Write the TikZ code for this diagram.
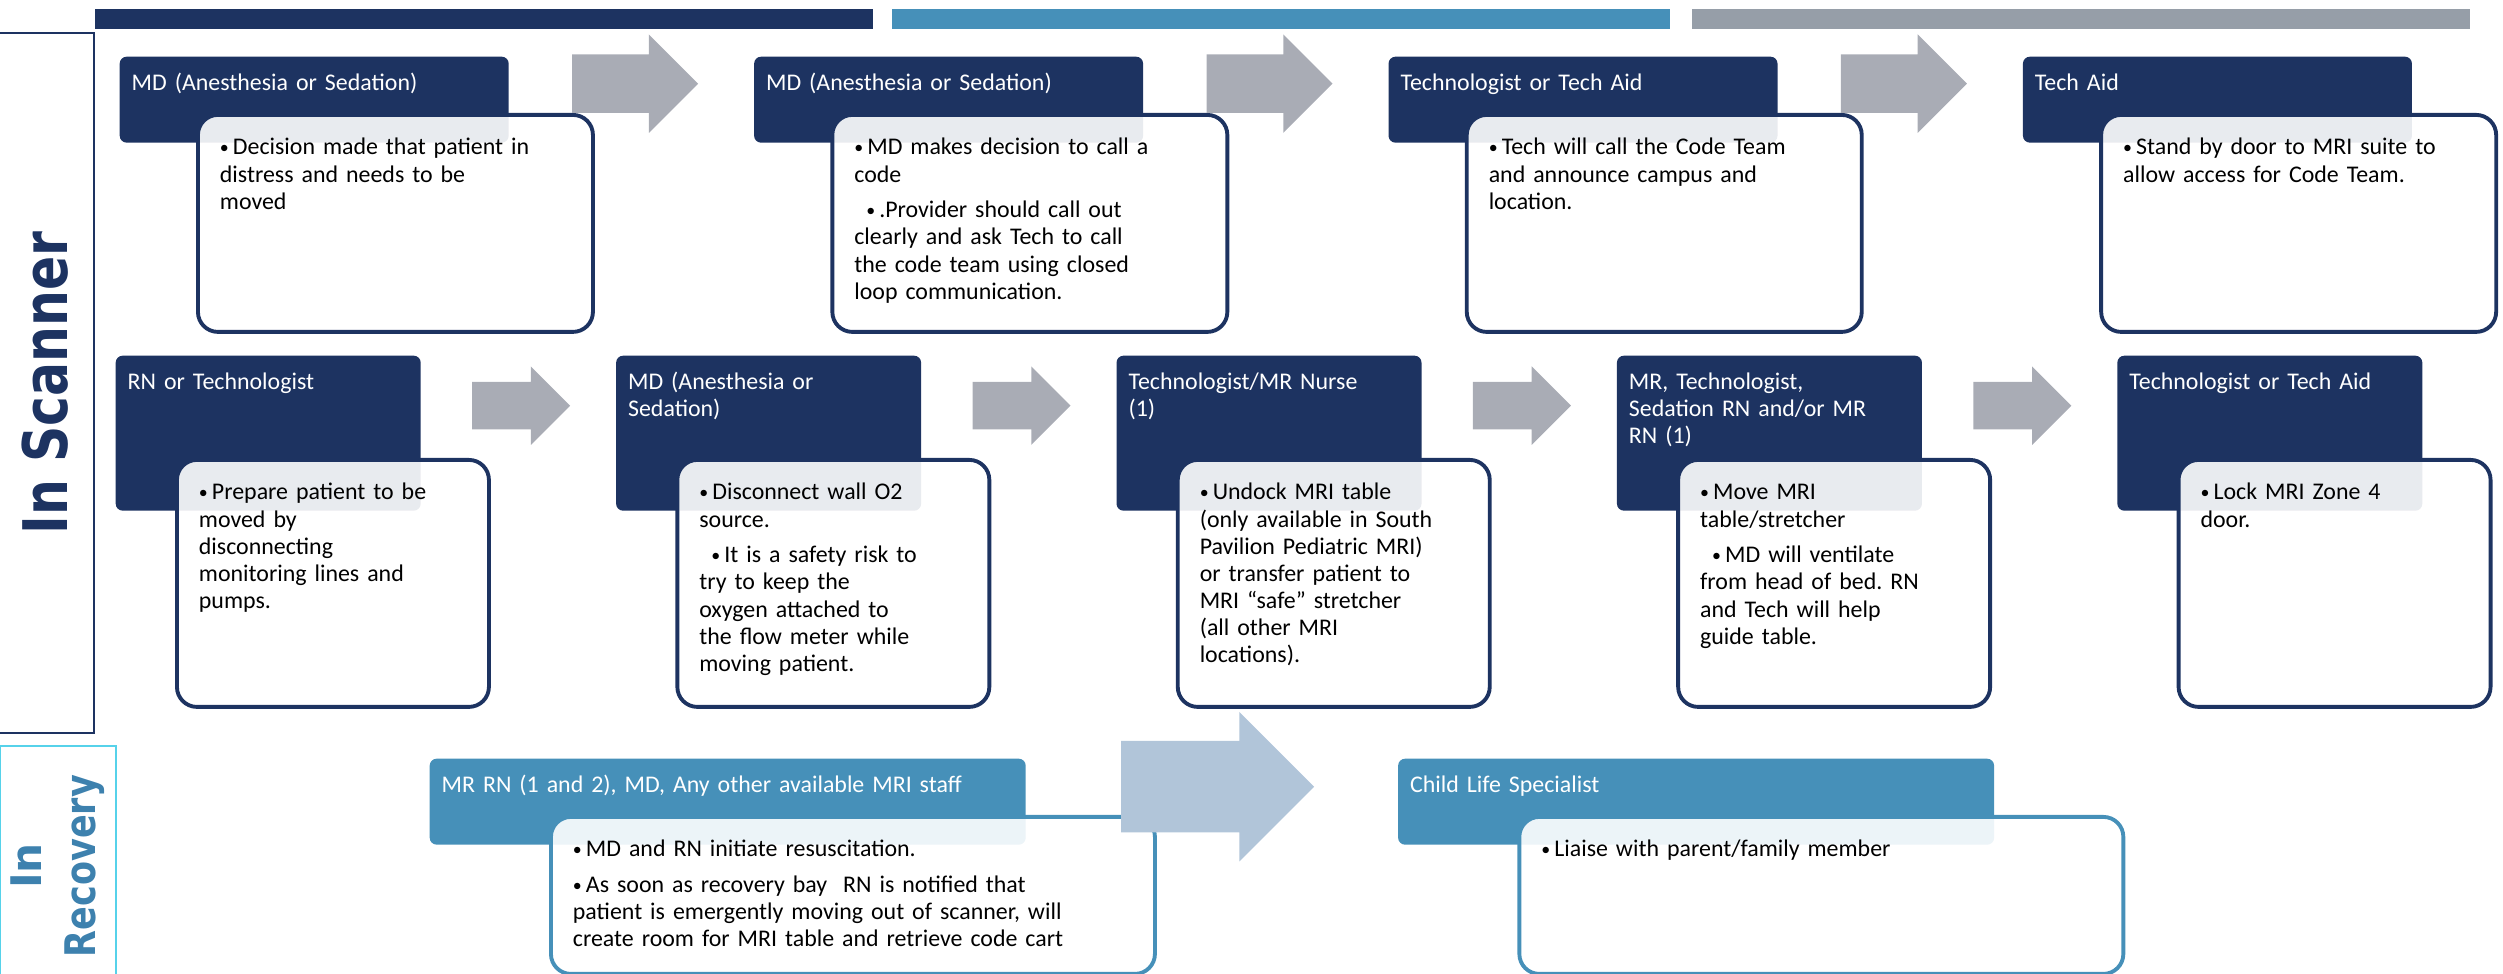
\documentclass[tikz,border=0pt]{standalone}
\usepackage{fontspec}
\setmainfont{Carlito}
\newfontfamily\lanefont{DejaVu Sans}
\usepackage{tikz}
\usetikzlibrary{positioning,shapes.arrows}
\definecolor{navy}{HTML}{1D3361}
\definecolor{steel}{HTML}{4690B9}
\definecolor{greybar}{HTML}{969EA8}
\definecolor{arrowgrey}{HTML}{A9ACB5}
\definecolor{paleblue}{HTML}{B1C5D9}
\definecolor{cyanline}{HTML}{56D2EA}
\definecolor{laneblue}{HTML}{3D81AE}
\frenchspacing
% bullet lines, first and second level
\newcommand{\bdot}{\hbox to 0.13cm{\raisebox{0.15ex}{\scalebox{0.75}{\textbullet}}\hss}}
\newcommand{\bpt}[1]{\par\hangindent=0.13cm\hangafter=1\noindent\bdot#1\par}
\newcommand{\bsub}[1]{\par\vspace{2.5pt}\hangindent=0.25cm\hangafter=1\noindent\hspace{0.12cm}\bdot#1\par}

\begin{document}
\begin{tikzpicture}[font=\fontsize{6.8pt}{7.7pt}\selectfont,
  bar/.style={inner sep=0pt,minimum width=7.78cm,minimum height=0.20cm},
  lane/.style={rotate=90,line width=0.6pt,inner sep=0pt},
  hdr/.style={anchor=north west,fill=navy,text=white,rounded corners=0.07cm,align=left,inner xsep=0.12cm,inner ysep=0.08cm,text height=0.26cm},
  bdy/.style={fill=white,fill opacity=0.9,text opacity=1,draw=navy,line width=1.1pt,rounded corners=0.2cm,align=left,inner xsep=0.22cm,inner ysep=0.08cm,text height=0.05cm},
  hd1/.style={text width=3.65cm,text depth=0.44cm},
  bd1/.style={text width=3.51cm,text depth=1.96cm},
  hd2/.style={text width=2.81cm,text depth=1.13cm},
  bd2/.style={text width=2.68cm,text depth=2.26cm},
  hd3/.style={text width=5.72cm,text depth=0.44cm,fill=steel},
  bd3/.style={text width=5.60cm,text depth=1.36cm,draw=steel},
  garr/.style={single arrow,single arrow tip angle=90,fill=arrowgrey,inner xsep=0pt},
  arr1/.style={minimum height=1.26cm,inner ysep=0.285cm,single arrow head extend=0.20cm},
  arr2/.style={minimum height=0.98cm,inner ysep=0.23cm,single arrow head extend=0.155cm}]
\useasboundingbox (0,0) rectangle (25.03,9.74);

% phase bars
\node[bar,fill=navy,anchor=north west] (bar1) at (0.94,9.66) {};
\node[bar,fill=steel,right=0.18cm of bar1] (bar2) {};
\node[bar,fill=greybar,right=0.20cm of bar2] (bar3) {};

% lanes
\node[lane,draw=navy,text=navy,minimum width=7.00cm,minimum height=0.98cm,
  font=\lanefont\bfseries\fontsize{17.5pt}{18pt}\selectfont] (scanner) at (0.45,5.91) {\scalebox{0.82}[1]{In Scanner}};
\node[lane,draw=cyanline,text=laneblue,minimum width=2.40cm,minimum height=1.16cm,align=center,
  font=\lanefont\bfseries\fontsize{12pt}{15.4pt}\selectfont] (recovery) at (0.58,1.08) {In\\\scalebox{0.83}[1]{Recovery}};

% in scanner, first row
\node[hdr,hd1] (h11) at (1.19,9.18) {MD (Anesthesia or Sedation)};
\node[hdr,hd1,right=2.44cm of h11] (h12) {MD (Anesthesia or Sedation)};
\node[hdr,hd1,right=2.44cm of h12] (h13) {Technologist or Tech Aid};
\node[hdr,hd1,right=2.44cm of h13] (h14) {Tech Aid};
\node[bdy,bd1,below right=0.57cm and 0.77cm of h11.north west] (b11) {\bpt{Decision made that patient in\\distress and needs to be\\moved}};
\node[bdy,bd1,below right=0.57cm and 0.77cm of h12.north west] (b12) {\bpt{MD makes decision to call a\\code}\bsub{.Provider should call out\\clearly and ask Tech to call\\the code team using closed\\loop communication.}};
\node[bdy,bd1,below right=0.57cm and 0.77cm of h13.north west] (b13) {\bpt{Tech will call the Code Team\\and announce campus and\\location.}};
\node[bdy,bd1,below right=0.57cm and 0.77cm of h14.north west] (b14) {\bpt{Stand by door to MRI suite to\\allow access for Code Team.}};
\node[garr,arr1,right=0.62cm of h11,yshift=0.16cm] (a11) {};
\node[garr,arr1,right=0.62cm of h12,yshift=0.16cm] (a12) {};
\node[garr,arr1,right=0.62cm of h13,yshift=0.16cm] (a13) {};

% in scanner, second row
\node[hdr,hd2] (h21) at (1.15,6.19) {RN or Technologist};
\node[hdr,hd2,right=1.94cm of h21] (h22) {MD (Anesthesia or\\Sedation)};
\node[hdr,hd2,right=1.94cm of h22] (h23) {Technologist/MR Nurse\\(1)};
\node[hdr,hd2,right=1.94cm of h23] (h24) {MR, Technologist,\\Sedation RN and/or MR\\RN (1)};
\node[hdr,hd2,right=1.94cm of h24] (h25) {Technologist or Tech Aid};
\node[bdy,bd2,below right=1.03cm and 0.60cm of h21.north west] (b21) {\bpt{Prepare patient to be\\moved by\\disconnecting\\monitoring lines and\\pumps.}};
\node[bdy,bd2,below right=1.03cm and 0.60cm of h22.north west] (b22) {\bpt{Disconnect wall O2\\source.}\bsub{It is a safety risk to\\try to keep the\\oxygen attached to\\the flow meter while\\moving patient.}};
\node[bdy,bd2,below right=1.03cm and 0.60cm of h23.north west] (b23) {\bpt{Undock MRI table\\(only available in South\\Pavilion Pediatric MRI)\\or transfer patient to\\MRI “safe” stretcher\\(all other MRI\\locations).}};
\node[bdy,bd2,below right=1.03cm and 0.60cm of h24.north west] (b24) {\bpt{Move MRI\\table/stretcher}\bsub{MD will ventilate\\from head of bed. RN\\and Tech will help\\guide table.}};
\node[bdy,bd2,below right=1.03cm and 0.60cm of h25.north west] (b25) {\bpt{Lock MRI Zone 4\\door.}};
\node[garr,arr2,right=0.50cm of h21,yshift=0.275cm] (a21) {};
\node[garr,arr2,right=0.50cm of h22,yshift=0.275cm] (a22) {};
\node[garr,arr2,right=0.50cm of h23,yshift=0.275cm] (a23) {};
\node[garr,arr2,right=0.50cm of h24,yshift=0.275cm] (a24) {};

% in recovery
\node[hdr,hd3] (r1) at (4.29,2.16) {MR RN (1 and 2), MD, Any other available MRI staff};
\node[hdr,hd3,right=3.71cm of r1] (r2) {Child Life Specialist};
\node[bdy,bd3,below right=0.57cm and 1.20cm of r1.north west] (s1) {\bpt{MD and RN initiate resuscitation.}\vspace{2.5pt}\bpt{As soon as recovery bay\ \ RN is notified that\\patient is emergently moving out of scanner, will\\create room for MRI table and retrieve code cart}};
\node[bdy,bd3,below right=0.57cm and 1.20cm of r2.north west] (s2) {\bpt{Liaise with parent/family member}};
\node[garr,fill=paleblue,minimum height=1.93cm,inner ysep=0.45cm,single arrow head extend=0.29cm,right=0.94cm of r1,yshift=0.15cm] (ar) {};
\end{tikzpicture}
\end{document}
